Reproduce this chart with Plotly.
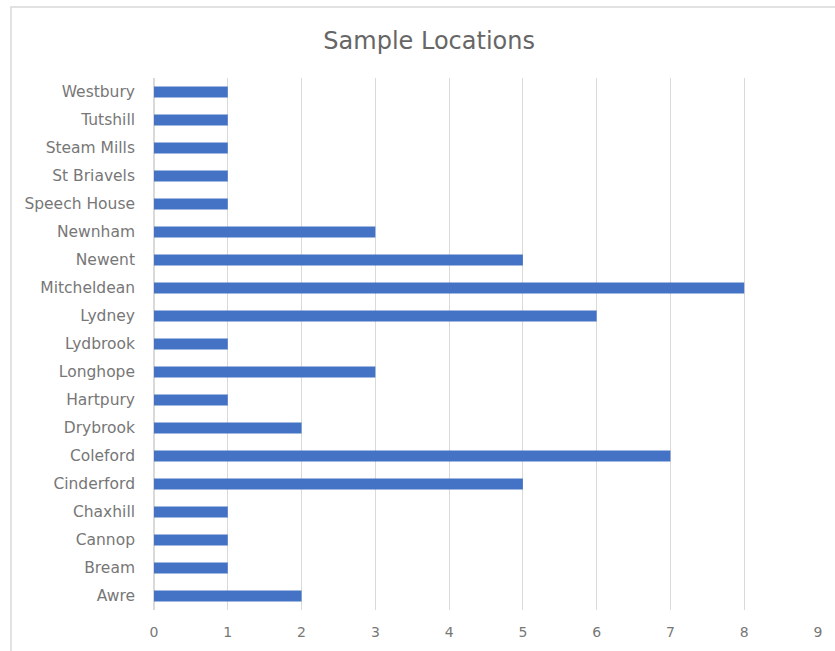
import plotly.graph_objects as go

# Number of samples collected at each location (listed bottom to top)
locations = [
    "Awre", "Bream", "Cannop", "Chaxhill", "Cinderford", "Coleford",
    "Drybrook", "Hartpury", "Longhope", "Lydbrook", "Lydney", "Mitcheldean",
    "Newent", "Newnham", "Speech House", "St Briavels", "Steam Mills",
    "Tutshill", "Westbury",
]
samples = [2, 1, 1, 1, 5, 7, 2, 1, 3, 1, 6, 8, 5, 3, 1, 1, 1, 1, 1]
x_ticks = list(range(0, 10))

TEXT = "#777777"
GRID = "#d9d9d9"
FONT = "DejaVu Sans, sans-serif"

fig = go.Figure(
    go.Bar(
        x=samples,
        y=locations,
        orientation="h",
        marker=dict(color="#4472C4", line=dict(width=0)),
        hoverinfo="x+y",
    )
)

fig.update_layout(
    width=835,
    height=651,
    margin=dict(l=154, r=17, t=78, b=41),
    paper_bgcolor="white",
    plot_bgcolor="white",
    bargap=0.6,
    showlegend=False,
    font=dict(family=FONT, size=14, color=TEXT),
    title=dict(
        text="Sample Locations",
        x=0.514,
        xanchor="center",
        y=0.938,
        yanchor="middle",
        font=dict(family=FONT, size=24, color="#666666"),
    ),
    xaxis=dict(
        range=[0, 9],
        tickvals=x_ticks,
        showgrid=True,
        gridcolor=GRID,
        gridwidth=1,
        zeroline=True,
        zerolinecolor=GRID,
        showline=False,
        ticks="",
        ticklabelstandoff=12,
        tickfont=dict(size=14, color=TEXT),
        fixedrange=True,
    ),
    yaxis=dict(
        categoryorder="array",
        categoryarray=locations,
        showgrid=False,
        showline=False,
        ticks="",
        ticklabelstandoff=18,
        tickfont=dict(size=15.5, color=TEXT),
        fixedrange=True,
    ),
    shapes=[
        # chart frame
        dict(
            type="rect",
            xref="paper",
            yref="paper",
            x0=-0.2154,
            x1=1.2,
            y0=-0.3,
            y1=1.1335,
            line=dict(color="#d9d9d9", width=1.5),
            fillcolor="rgba(0,0,0,0)",
            layer="below",
        )
    ],
)

fig.write_html("out.html")
